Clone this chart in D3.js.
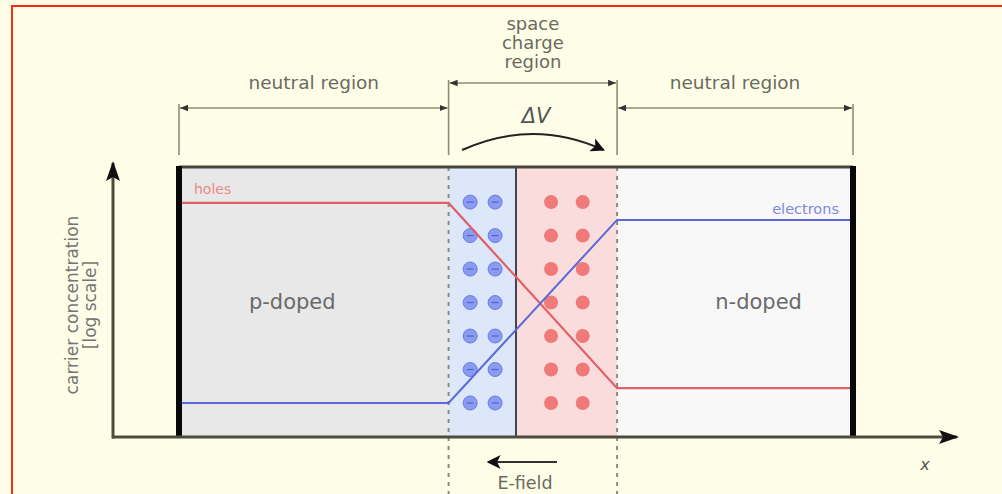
<!DOCTYPE html>
<html>
<head>
<meta charset="utf-8">
<script src="https://cdn.jsdelivr.net/npm/d3@7/dist/d3.min.js"></script>
<style>
  html, body { margin: 0; padding: 0; background: #fefee8; }
  svg { display: block; }
  text { font-family: "DejaVu Sans", sans-serif; }
</style>
</head>
<body>
<script>
// ---------- data ----------
const regionNames  = ["p-doped", "acceptor ions", "donor ions", "n-doped"];
const regionBounds = [0, 4, 5, 6.5, 10];           // position (arb. units)
const regionFills  = ["#e8e8e8", "#dde7fa", "#fbdcdc", "#f8f8f9"];

const holesX      = [0, 4, 6.5, 10];
const holesY      = [8.67, 8.67, 1.81, 1.81];     // log concentration
const electronsX  = [0, 4, 6.5, 10];
const electronsY  = [1.26, 1.26, 8.04, 8.04];

const ionRows       = [8.7, 7.46, 6.22, 4.98, 3.74, 2.5, 1.26];
const acceptorCols  = [4.32, 4.69];
const donorCols     = [5.52, 5.99];

const spanLabels = ["neutral region", "space charge region", "neutral region"];
const spanFrom   = [0, 4, 6.5];
const spanTo     = [4, 6.5, 10];

const regionTextLabels = ["p-doped", "n-doped"];
const regionTextX      = [1.68, 8.6];
const regionTextY      = [5.0, 5.0];

// ---------- layout ----------
const W = 1002, H = 494;
const x = d3.scaleLinear().domain([0, 10]).range([179, 853]);
const y = d3.scaleLinear().domain([0, 10]).range([437, 167]);

const svg = d3.select("body").append("svg").attr("width", W).attr("height", H);

const defs = svg.append("defs");
defs.append("marker").attr("id", "dimArrow").attr("viewBox", "0 0 10 10")
  .attr("refX", 10).attr("refY", 5).attr("markerWidth", 8).attr("markerHeight", 8)
  .attr("markerUnits", "userSpaceOnUse").attr("orient", "auto-start-reverse")
  .append("path").attr("d", "M0,1 L10,5 L0,9 Z").attr("fill", "#333");
defs.append("marker").attr("id", "bigArrow").attr("viewBox", "0 0 10 10")
  .attr("refX", 9).attr("refY", 5).attr("markerWidth", 14).attr("markerHeight", 14)
  .attr("markerUnits", "userSpaceOnUse").attr("orient", "auto")
  .append("path").attr("d", "M0,0 L10,5 L0,10 L2.5,5 Z").attr("fill", "#111");
defs.append("marker").attr("id", "axArrow").attr("viewBox", "0 0 10 10")
  .attr("refX", 9).attr("refY", 5).attr("markerWidth", 20).attr("markerHeight", 20)
  .attr("markerUnits", "userSpaceOnUse").attr("orient", "auto")
  .append("path").attr("d", "M0,1.5 L10,5 L0,8.5 L2,5 Z").attr("fill", "#111");

// background and red frame
svg.append("rect").attr("x", 0).attr("y", 0).attr("width", W).attr("height", H).attr("fill", "#fefee8");
svg.append("rect").attr("x", 12).attr("y", 6).attr("width", W).attr("height", H)
  .attr("fill", "none").attr("stroke", "#ff2a10").attr("stroke-width", 2);

// region fills
svg.selectAll("rect.region").data(regionNames).join("rect")
  .attr("class", "region")
  .attr("x", (d, i) => x(regionBounds[i]))
  .attr("y", y(10))
  .attr("width", (d, i) => x(regionBounds[i + 1]) - x(regionBounds[i]))
  .attr("height", y(0) - y(10))
  .attr("fill", (d, i) => regionFills[i]);

// region text
svg.selectAll("text.rlab").data(regionTextLabels).join("text")
  .attr("class", "rlab")
  .attr("x", (d, i) => x(regionTextX[i])).attr("y", (d, i) => y(regionTextY[i]) + 7)
  .attr("text-anchor", "middle").attr("font-size", 21).attr("fill", "#6a6a6a")
  .text(d => d);

// dashed boundaries of space charge region
[regionBounds[1], regionBounds[3]].forEach(v => {
  svg.append("line").attr("x1", x(v)).attr("x2", x(v)).attr("y1", y(10)).attr("y2", H)
    .attr("stroke", "#8a8a8a").attr("stroke-width", 2).attr("stroke-dasharray", "4,5");
});
// metallurgical junction
svg.append("line").attr("x1", x(regionBounds[2])).attr("x2", x(regionBounds[2]))
  .attr("y1", y(10)).attr("y2", y(0)).attr("stroke", "#444450").attr("stroke-width", 2);

// ions
const ions = [];
ionRows.forEach(r => {
  acceptorCols.forEach(c => ions.push({ px: c, py: r, type: "a" }));
  donorCols.forEach(c => ions.push({ px: c, py: r, type: "d" }));
});
const ionG = svg.append("g");
ionG.selectAll("circle").data(ions).join("circle")
  .attr("cx", d => x(d.px)).attr("cy", d => y(d.py)).attr("r", 7)
  .attr("fill", d => d.type === "a" ? "#8b9bf0" : "#f07a7a")
  .attr("stroke", d => d.type === "a" ? "#6a7ae6" : "none").attr("stroke-width", 1);
ionG.selectAll("line").data(ions.filter(d => d.type === "a")).join("line")
  .attr("x1", d => x(d.px) - 3.5).attr("x2", d => x(d.px) + 3.5)
  .attr("y1", d => y(d.py)).attr("y2", d => y(d.py))
  .attr("stroke", "#5060d0").attr("stroke-width", 1.2);

// carrier lines
const line = d3.line().x(d => x(d[0])).y(d => y(d[1]));
svg.append("path").datum(holesX.map((v, i) => [v, holesY[i]])).attr("d", line)
  .attr("fill", "none").attr("stroke", "#e06068").attr("stroke-width", 2.2);
svg.append("path").datum(electronsX.map((v, i) => [v, electronsY[i]])).attr("d", line)
  .attr("fill", "none").attr("stroke", "#5a68d8").attr("stroke-width", 2);

svg.append("text").attr("x", x(0) + 15).attr("y", y(holesY[0]) - 9)
  .attr("font-size", 14).attr("fill", "#ec8a8a").text("holes");
svg.append("text").attr("x", x(10) - 14).attr("y", y(electronsY[3]) - 6)
  .attr("text-anchor", "end").attr("font-size", 14.5).attr("fill", "#8088e2").text("electrons");

// box top border and thick side bars
svg.append("line").attr("x1", x(0)).attr("x2", x(10)).attr("y1", y(10)).attr("y2", y(10))
  .attr("stroke", "#46463c").attr("stroke-width", 3);
[0, 10].forEach(v => {
  svg.append("line").attr("x1", x(v)).attr("x2", x(v)).attr("y1", y(10) - 1).attr("y2", y(0))
    .attr("stroke", "#080808").attr("stroke-width", 6);
});

// axes
svg.append("line").attr("x1", 113).attr("x2", 113).attr("y1", y(0) + 1.5).attr("y2", 163)
  .attr("stroke", "#4c4c3e").attr("stroke-width", 3).attr("marker-end", "url(#axArrow)");
svg.append("line").attr("x1", 112).attr("x2", 957).attr("y1", y(0)).attr("y2", y(0))
  .attr("stroke", "#4c4c3e").attr("stroke-width", 3).attr("marker-end", "url(#axArrow)");
svg.append("text").attr("x", 925).attr("y", 470).attr("text-anchor", "middle")
  .attr("font-family", "DejaVu Serif").attr("font-style", "italic").attr("font-size", 16)
  .attr("fill", "#555").text("x");

const yl = svg.append("text").attr("transform", "translate(78,305) rotate(-90)")
  .attr("text-anchor", "middle").attr("font-size", 17).attr("fill", "#757575");
yl.append("tspan").attr("x", 0).attr("dy", 0).text("carrier concentration");
yl.append("tspan").attr("x", 0).attr("dy", 18).text("[log scale]");

// dimension lines
const dimY    = [108, 83, 108];
spanLabels.forEach((lab, i) => {
  const x1 = x(spanFrom[i]), x2 = x(spanTo[i]);
  svg.append("line").attr("x1", x1 + 1).attr("x2", x2 - 1).attr("y1", dimY[i]).attr("y2", dimY[i])
    .attr("stroke", "#8d8d74").attr("stroke-width", 1.6)
    .attr("marker-start", "url(#dimArrow)").attr("marker-end", "url(#dimArrow)");
});
// extension lines
const extX = [0, 4, 6.5, 10];
const extTop = [104, 80, 80, 104];
extX.forEach((v, i) => {
  svg.append("line").attr("x1", x(v)).attr("x2", x(v)).attr("y1", extTop[i]).attr("y2", 155)
    .attr("stroke", "#8d8d74").attr("stroke-width", 1.6);
});
// dimension labels
svg.append("text").attr("x", (x(0) + x(4)) / 2).attr("y", 89).attr("text-anchor", "middle")
  .attr("font-size", 18.5).attr("fill", "#6a6a60").text(spanLabels[0]);
svg.append("text").attr("x", (x(6.5) + x(10)) / 2).attr("y", 89).attr("text-anchor", "middle")
  .attr("font-size", 18.5).attr("fill", "#6a6a60").text(spanLabels[2]);
const sc = svg.append("text").attr("text-anchor", "middle").attr("font-size", 18).attr("fill", "#6a6a60");
spanLabels[1].split(" ").forEach((w, i) => {
  sc.append("tspan").attr("x", (x(4) + x(6.5)) / 2).attr("y", 30 + i * 19).text(w);
});

// ΔV with curved arrow
svg.append("text").attr("x", 536).attr("y", 123).attr("text-anchor", "middle")
  .attr("font-family", "DejaVu Serif").attr("font-style", "italic").attr("font-size", 21)
  .attr("fill", "#555").text("ΔV");
svg.append("path").attr("d", `M${x(4.2)},150 Q${x(5.25)},118 ${x(6.3)},150`)
  .attr("fill", "none").attr("stroke", "#222").attr("stroke-width", 2)
  .attr("marker-end", "url(#bigArrow)");

// E-field arrow
svg.append("line").attr("x1", 557).attr("x2", 488).attr("y1", 462).attr("y2", 462)
  .attr("stroke", "#333", ).attr("stroke-width", 2).attr("marker-end", "url(#bigArrow)");
svg.append("text").attr("x", 525).attr("y", 489).attr("text-anchor", "middle")
  .attr("font-size", 17.5).attr("fill", "#6a6a60").text("E-field");
</script>
</body>
</html>
